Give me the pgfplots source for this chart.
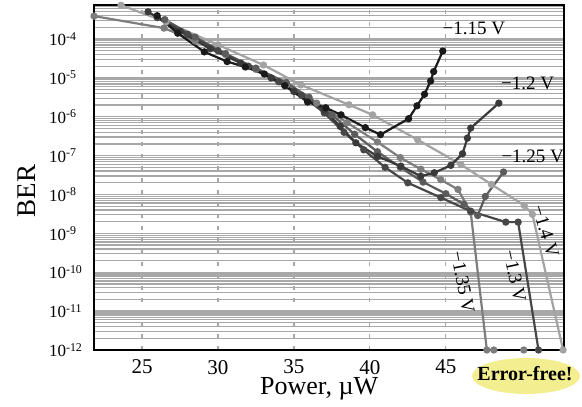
\documentclass[border=0pt]{standalone}
\usepackage{pgfplots}
\pgfplotsset{compat=1.18}
\usepackage{fontspec}
\setmainfont{Liberation Serif}
\definecolor{cA}{HTML}{1A1A1A}
\definecolor{cB}{HTML}{3A3A3A}
\definecolor{cC}{HTML}{5C5C5C}
\definecolor{cD}{HTML}{474747}
\definecolor{cE}{HTML}{7D7D7D}
\definecolor{cF}{HTML}{A3A3A3}
\definecolor{gridc}{HTML}{A8A8A8}
\definecolor{efy}{HTML}{F3EF90}
\begin{document}
\begin{tikzpicture}
\useasboundingbox (-47pt,-28pt) rectangle (244pt,175pt);
\fill[efy] (216pt,-13pt) ellipse (27pt and 9pt);
\begin{axis}[
  scale only axis, width=235pt, height=172.5pt,
  at={(0,0)}, anchor=south west,
  ymode=log, xmin=21.84, xmax=52.78, ymin=1e-12, ymax=7.5e-4,
  clip=false,
  axis line style={line width=1pt, black},
  xtick={25,30,35,40,45},
  ytick={1e-12,1e-11,1e-10,1e-9,1e-8,1e-7,1e-6,1e-5,1e-4},
  yticklabels={10\textsuperscript{-12},10\textsuperscript{-11},10\textsuperscript{-10},10\textsuperscript{-9},10\textsuperscript{-8},10\textsuperscript{-7},10\textsuperscript{-6},10\textsuperscript{-5},10\textsuperscript{-4}},
  minor ytick={2e-12,3e-12,4e-12,5e-12,6e-12,7e-12,8e-12,9e-12,
    2e-11,3e-11,4e-11,5e-11,6e-11,7e-11,8e-11,9e-11,
    2e-10,3e-10,4e-10,5e-10,6e-10,7e-10,8e-10,9e-10,
    2e-9,3e-9,4e-9,5e-9,6e-9,7e-9,8e-9,9e-9,
    2e-8,3e-8,4e-8,5e-8,6e-8,7e-8,8e-8,9e-8,
    2e-7,3e-7,4e-7,5e-7,6e-7,7e-7,8e-7,9e-7,
    2e-6,3e-6,4e-6,5e-6,6e-6,7e-6,8e-6,9e-6,
    2e-5,3e-5,4e-5,5e-5,6e-5,7e-5,8e-5,9e-5,
    2e-4,3e-4,4e-4,5e-4,6e-4,7e-4},
  major tick length=0pt, minor tick length=0pt,
  xmajorgrids, ymajorgrids, yminorgrids,
  major x grid style={gridc, line width=0.6pt, dash pattern=on 2pt off 4pt},
  major y grid style={gridc, line width=0.65pt},
  minor y grid style={gridc, line width=0.65pt},
  /pgf/number format/assume math mode=true,
  yticklabel style={font=\fontsize{8.5}{10}\selectfont, anchor=west, xshift=-26pt},
  xticklabel style={font=\fontsize{10.5}{12}\selectfont, yshift=-1.5pt},
  xlabel={Power, µW}, ylabel={BER},
  every axis x label/.style={at={(axis description cs:0.479,0)}, yshift=-19.5pt, anchor=center, font=\fontsize{13}{15}\selectfont},
  every axis y label/.style={at={(axis description cs:0,0.461)}, xshift=-33.5pt, rotate=90, anchor=center, font=\fontsize{13.5}{15}\selectfont},
  every axis plot/.append style={line width=1.1pt, mark=*, mark size=1.25pt},
]
% -1.4 V
\addplot[cF, mark options={fill=cF}] coordinates {
(23.62,7.41e-4) (26.58,2.75e-4) (30.0,7.08e-5) (33.0,2.14e-5) (35.46,6.61e-6)
(38.62,2.04e-6) (40.18,1.12e-6) (43.14,2.57e-7) (46.0,5.89e-8) (48.0,1.82e-8)
(50.16,5.25e-9) (50.7,3.09e-9) (52.72,1e-12)};
% -1.35 V
\addplot[cE, mark options={fill=cE}] coordinates {
(21.84,3.89e-4) (26.45,1.91e-4) (28.5,8.91e-5) (30.5,3.98e-5) (32.5,1.66e-5)
(34.5,6.61e-6) (36.5,2.24e-6) (38.5,7.08e-7) (40.5,2.24e-7) (42.0,8.91e-8)
(43.36,4.47e-8) (44.67,2.40e-8) (45.8,1.35e-8) (46.64,3.47e-9) (47.7,1e-12)};
% -1.25 V
\addplot[cC, mark options={fill=cC}] coordinates {
(26.5,3.16e-4) (28.5,1.12e-4) (30.5,4.17e-5) (32.5,1.78e-5) (34.5,7.59e-6)
(36.0,3.16e-6) (37.5,1.12e-6) (39.0,3.55e-7) (40.5,1.26e-7) (42.0,5.01e-8)
(43.5,2.09e-8) (45.0,1.05e-8) (46.2,5.62e-9) (47.1,2.88e-9) (47.6,8.91e-9) (48.8,3.80e-8)};
% -1.3 V
\addplot[cD, mark options={fill=cD}] coordinates {
(26.0,3.55e-4) (28.0,1.32e-4) (30.0,5.01e-5) (32.0,2.00e-5) (34.0,7.94e-6)
(35.5,3.55e-6) (37.0,1.26e-6) (38.3,3.98e-7) (39.6,1.41e-7) (41.0,5.01e-8)
(42.5,2.00e-8) (44.67,8.32e-9) (46.64,3.72e-9) (48.95,1.95e-9) (49.76,1.95e-9) (51.1,1e-12)};
% -1.2 V
\addplot[cB, mark options={fill=cB}] coordinates {
(25.4,5.01e-4) (27.5,1.58e-4) (29.5,5.62e-5) (31.5,2.40e-5) (33.5,1.00e-5)
(35.0,4.47e-6) (36.97,1.51e-6) (38.05,5.62e-7) (39.08,2.14e-7) (40.51,9.55e-8)
(42.04,5.37e-8) (43.35,2.95e-8) (44.24,3.63e-8) (45.33,5.62e-8) (46.1,1.12e-7)
(46.42,2.82e-7) (46.64,5.13e-7) (48.49,2.24e-6)};
% -1.15 V
\addplot[cA, mark options={fill=cA}] coordinates {
(26.0,3.98e-4) (27.35,1.41e-4) (29.1,4.68e-5) (30.6,2.63e-5) (31.8,1.91e-5)
(33.05,1.26e-5) (34.4,6.31e-6) (35.9,2.40e-6) (37.1,1.70e-6) (38.1,1.12e-6)
(39.7,5.25e-7) (40.7,3.47e-7) (42.55,8.91e-7) (43.1,1.91e-6) (43.6,3.80e-6)
(44.0,8.32e-6) (44.2,1.45e-5) (44.8,4.90e-5)};
% error-free dots
\addplot[only marks, cE, mark options={fill=cE}] coordinates {(48.16,1e-12) (50.13,1e-12)};
\begin{scope}[every node/.style={font=\fontsize{9.5}{11}\selectfont, inner sep=0pt}]
\node at (axis cs:46.84,1.91e-4) {−1.15 V};
\node at (axis cs:50.39,7.41e-6) {−1.2 V};
\node at (axis cs:50.72,9.33e-8) {−1.25 V};
\node[rotate=-73] at (axis cs:51.58,1.12e-9) {−1.4 V};
\node[rotate=-79] at (axis cs:46.12,5.5e-11) {−1.35 V};
\node[rotate=-78] at (axis cs:49.54,7.94e-11) {−1.3 V};
\end{scope}
\end{axis}
\node[font=\fontsize{10}{12}\selectfont\bfseries, inner sep=0pt] at (215.5pt,-12pt) {Error-free!};
\end{tikzpicture}
\end{document}
